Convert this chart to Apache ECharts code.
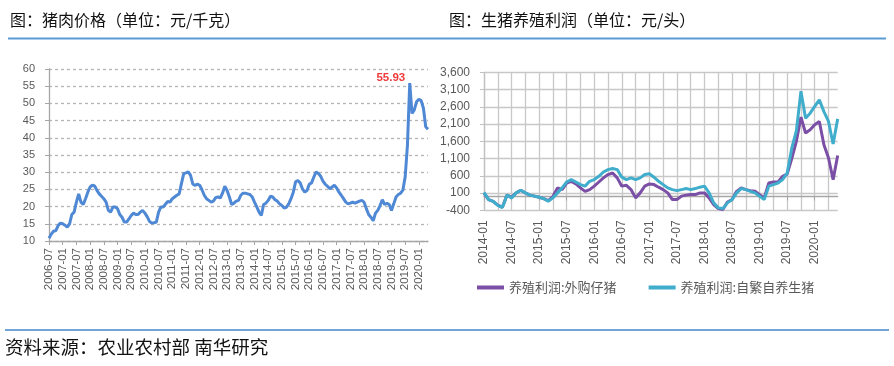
<!DOCTYPE html>
<html>
<head>
<meta charset="utf-8">
<script src="https://cdn.jsdelivr.net/npm/echarts@6/dist/echarts.min.js"></script>
<style>html,body{margin:0;padding:0;background:#fff}#c{width:894px;height:366px}</style>
</head>
<body>
<div id="c"></div>
<script>
// ---- Left chart: pork price (元/千克), monthly 2006-07 .. 2020-05 ----
var porkStart = [2006, 7];
var porkPrice = [
  10.8, 12.0, 12.9, 13.0, 14.5, 15.2,
  15.0, 14.6, 14.0, 15.0, 17.7, 18.4, 21.3, 23.7, 21.3, 20.6, 22.3, 24.2,
  25.7, 26.2, 26.0, 24.7, 23.7, 23.0, 22.3, 21.3, 18.9, 18.4, 19.9, 19.9,
  19.4, 17.7, 16.9, 15.5, 15.5, 16.4, 17.4, 18.1, 17.7, 17.7, 18.4, 18.9,
  18.1, 17.1, 15.7, 15.2, 15.3, 15.5, 18.4, 19.9, 19.9, 20.7, 21.5, 21.3,
  22.3, 22.8, 23.3, 23.7, 26.7, 29.6, 29.8, 30.1, 29.1, 26.5, 26.2, 26.5,
  26.2, 24.9, 23.3, 22.3, 21.8, 21.3, 21.6, 22.6, 22.8, 22.5, 23.9, 25.9,
  24.7, 22.8, 20.6, 21.0, 21.6, 21.8, 23.3, 23.9, 23.9, 23.7, 23.5, 22.8,
  21.3, 19.9, 18.4, 17.4, 20.6, 21.0, 21.8, 23.0, 22.8, 22.0, 21.6, 20.8,
  20.3, 19.6, 19.8, 20.8, 22.3, 24.2, 27.2, 27.6, 26.9, 25.2, 24.2, 24.7,
  26.5, 26.9, 28.6, 30.1, 29.6, 28.8, 27.4, 26.5, 25.9, 25.2, 25.7, 26.2,
  25.4, 24.2, 23.3, 22.3, 21.3, 20.8, 21.0, 21.3, 21.0, 21.3, 21.6, 21.8,
  21.3, 19.4, 17.7, 16.9, 15.9, 18.1, 18.9, 20.3, 22.0, 20.6, 21.0, 20.6,
  18.9, 20.8, 22.8, 23.5, 23.9, 24.8, 28.6, 37.9, 55.93, 47.1, 48.1, 50.5,
  51.2, 50.8, 48.6, 43.2, 42.5
];
var porkTicks = [10, 60, 5]; // min, max, interval

// ---- Right chart: hog farming profit (元/头), monthly 2014-01 .. 2020-06 ----
var profitStart = [2014, 1];
var profitPurchased = [ // 养殖利润:外购仔猪
  100, -90, -140, -250, -310, 40, -20, 105, 180, 105, 40, 10,
  -20, -60, -120, 0, 250, 200, 390, 440, 365, 250, 150, 200,
  300, 420, 540, 635, 680, 540, 300, 325, 200, -40, 105, 300,
  365, 345, 270, 200, 105, -90, -90, 10, 40, 55, 55, 105,
  105, -40, -235, -350, -375, -160, -90, 150, 250, 200, 170, 150,
  55, -40, 395, 420, 420, 585, 650, 1100, 1600, 2300, 1840, 1935,
  2080, 2175, 1500, 1115, 490, 1190
];
var profitSelfBred = [ // 养殖利润:自繁自养生猪
  120, -90, -140, -260, -320, 40, -40, 105, 180, 105, 40, 10,
  -20, -60, -135, -40, 105, 250, 420, 490, 420, 345, 300, 440,
  490, 585, 710, 780, 810, 780, 560, 490, 540, 490, 540, 635,
  660, 560, 440, 345, 250, 200, 170, 200, 230, 200, 230, 270,
  300, 105, -185, -330, -350, -185, -90, 105, 230, 200, 150, 105,
  10, -90, 300, 345, 390, 490, 680, 1400, 1900, 3050, 2270, 2415,
  2610, 2800, 2460, 2175, 1520, 2250
];
var profitTicks = [-400, 3600, 500];
var seriesNames = ['养殖利润:外购仔猪', '养殖利润:自繁自养生猪'];
var titles = ['图：猪肉价格（单位：元/千克）', '图：生猪养殖利润（单位：元/头）'];
var sourceText = '资料来源：农业农村部 南华研究';

function months(start, n) {
  var out = [], y = start[0], m = start[1];
  for (var i = 0; i < n; i++) {
    out.push(y + '-' + (m < 10 ? '0' : '') + m);
    m++; if (m > 12) { m = 1; y++; }
  }
  return out;
}
var porkMonths = months(porkStart, porkPrice.length);
var profitMonths = months(profitStart, profitSelfBred.length);

var FONT = '"Noto Sans CJK SC", "Noto Sans", sans-serif';
var LBL = '#595959';
var AX = '#a6a6a6';

var chart = echarts.init(document.getElementById('c'), null, {renderer: 'canvas'});
chart.setOption({
  animation: false,
  textStyle: {fontFamily: FONT},
  grid: [
    {left: 49, top: 69, width: 379, height: 172},
    {left: 484, top: 72.3, width: 353.7, height: 138}
  ],
  legend: {
    left: 472, top: 276,
    icon: 'rect', itemWidth: 27, itemHeight: 4, itemGap: 32,
    textStyle: {color: LBL, fontSize: 13, fontFamily: FONT},
    data: seriesNames
  },
  xAxis: [
    {
      type: 'category', gridIndex: 0, data: porkMonths, boundaryGap: false,
      axisLine: {lineStyle: {color: AX, width: 1.3}},
      axisTick: {show: true, interval: 5, length: 4, lineStyle: {color: AX}},
      axisLabel: {interval: 5, rotate: 90, fontSize: 11.5, color: LBL, margin: 7, fontFamily: 'Liberation Sans'},
      splitLine: {show: false}
    },
    {
      type: 'category', gridIndex: 1, data: profitMonths, boundaryGap: false,
      axisLine: {lineStyle: {color: AX, width: 1.3}},
      axisTick: {show: true, interval: 5, length: 4, lineStyle: {color: AX}},
      axisLabel: {interval: 5, rotate: 90, fontSize: 12, color: LBL, margin: 10, fontFamily: 'Liberation Sans'},
      splitLine: {show: true, interval: 2, lineStyle: {color: '#c8c8c8', width: 1.3}}
    }
  ],
  yAxis: [
    {
      type: 'value', gridIndex: 0, min: porkTicks[0], max: porkTicks[1], interval: porkTicks[2],
      axisLine: {show: true, lineStyle: {color: AX, width: 1.3}},
      axisTick: {show: true, length: 4, lineStyle: {color: AX}},
      axisLabel: {fontSize: 11, color: LBL, margin: 14, fontFamily: 'Liberation Sans'},
      splitLine: {show: true, lineStyle: {type: [3, 3], color: '#b4b4b4', width: 1.3}}
    },
    {
      type: 'value', gridIndex: 1, min: profitTicks[0], max: profitTicks[1], interval: profitTicks[2],
      axisLine: {show: true, lineStyle: {color: '#c0c0c0', width: 1.3}},
      axisTick: {show: true, length: 4, lineStyle: {color: '#c0c0c0'}},
      axisLabel: {fontSize: 12, color: LBL, margin: 14, fontFamily: 'Liberation Sans',
        formatter: function (v) { return v.toLocaleString('en-US'); }},
      splitLine: {show: true, lineStyle: {color: '#c8c8c8', width: 1.3}}
    }
  ],
  series: [
    {
      type: 'line', xAxisIndex: 0, yAxisIndex: 0, data: porkPrice,
      showSymbol: false, smooth: false,
      lineStyle: {color: '#4f88d4', width: 3}, itemStyle: {color: '#4f88d4'},
      markPoint: {
        symbol: 'circle', symbolSize: 1, itemStyle: {color: 'rgba(0,0,0,0)'},
        data: [{type: 'max'}],
        label: {show: true, position: 'left', distance: 4, offset: [0, -5],
          color: '#f03a3a', fontWeight: 'bold', fontSize: 11.5, fontFamily: 'Liberation Sans',
          formatter: function (p) { return p.value.toFixed(2); }}
      }
    },
    {
      name: seriesNames[0], type: 'line', xAxisIndex: 1, yAxisIndex: 1, data: profitPurchased,
      showSymbol: false, lineStyle: {color: '#7b4fa5', width: 3}, itemStyle: {color: '#7b4fa5'}
    },
    {
      name: seriesNames[1], type: 'line', xAxisIndex: 1, yAxisIndex: 1, data: profitSelfBred,
      showSymbol: false, lineStyle: {color: '#3fadcb', width: 3}, itemStyle: {color: '#3fadcb'}
    }
  ],
  graphic: [
    {type: 'text', x: 10, y: 20, style: {text: titles[0], fill: '#111', font: '16px ' + FONT, verticalAlign: 'middle'}},
    {type: 'text', x: 449, y: 20, style: {text: titles[1], fill: '#111', font: '16px ' + FONT, verticalAlign: 'middle'}},
    {type: 'line', shape: {x1: 8, y1: 38.5, x2: 886, y2: 38.5}, style: {stroke: '#5b9bd5', lineWidth: 2}},
    {type: 'line', shape: {x1: 5, y1: 330, x2: 889, y2: 330}, style: {stroke: '#6fa5da', lineWidth: 2}},
    {type: 'text', x: 5, y: 347, style: {text: sourceText, fill: '#111', font: '18.5px ' + FONT, verticalAlign: 'middle'}}
  ]
});
</script>
</body>
</html>
